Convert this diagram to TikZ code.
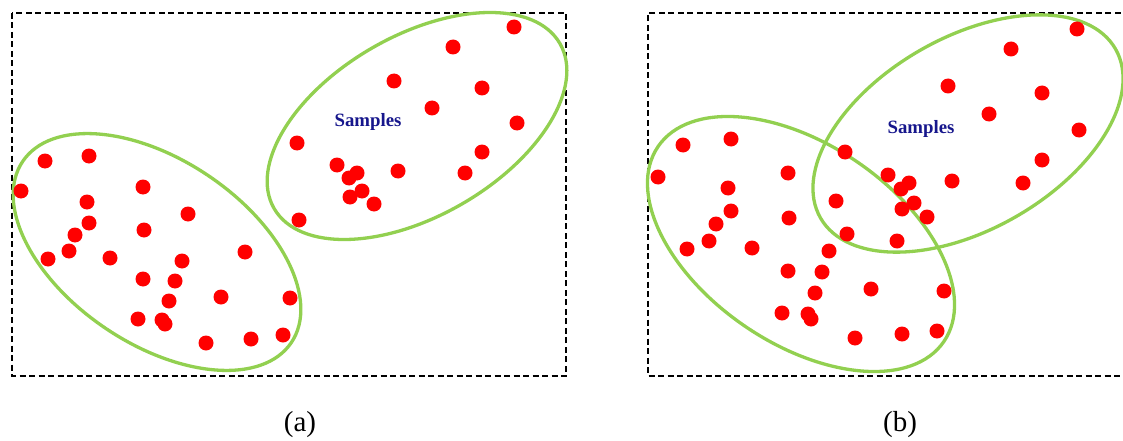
\documentclass[tikz,border=0pt]{standalone}
\usepackage{fontspec}
\setmainfont{Liberation Serif}
\definecolor{ellgreen}{RGB}{146,208,80}
\definecolor{dotred}{RGB}{255,0,0}
\definecolor{sampblue}{RGB}{22,22,140}
\tikzset{
  dot/.style={circle,fill=dotred,draw=none,inner sep=0pt,minimum size=15pt},
  cluster/.style={draw=ellgreen,line width=3.3pt},
  frame/.style={draw=black,line width=1.8pt,dash pattern=on 6pt off 3.5pt},
  samptext/.style={text=sampblue,font=\fontsize{18.8}{20}\selectfont\bfseries},
  caption/.style={font=\fontsize{29}{31}\selectfont}
}
\begin{document}
\begin{tikzpicture}[x=1pt,y=-1pt]
\useasboundingbox (0,0) rectangle (1123,441);
\clip (0,0) rectangle (1123,441);
% ---------- panel (a) ----------
\draw[frame] (12,13) rectangle (566,376);
\draw[cluster,rotate around={-34:(157,252)}] (157,252) ellipse [x radius=162pt,y radius=92pt];
\draw[cluster,rotate around={30:(417,126)}] (417,126) ellipse [x radius=165pt,y radius=90pt];
\foreach \x/\y [count=\i] in {45/161,89/156,21/191,143/187,87/202,188/214,89/223,75/235,144/230,69/251,48/259,110/258,245/252,182/261,143/279,175/281,221/297,290/298,169/301,138/319,162/320,165/324,206/343,251/339,283/335,
514/27,453/47,394/81,482/88,432/108,517/123,297/143,482/152,337/165,357/173,349/178,398/171,465/173,362/191,350/197,374/204,299/220}
  \node[dot] (pa\i) at (\x,\y) {};
\node[samptext] (sa) at (368,122) {Samples};
\node[caption] (capa) at (300,425) {(a)};
% ---------- panel (b) ----------
\draw[frame] (1130,13) -- (648,13) -- (648,376) -- (1130,376);
\draw[cluster,rotate around={-34.3:(801,244)}] (801,244) ellipse [x radius=173pt,y radius=99.5pt];
\draw[cluster,rotate around={29.8:(968,133.5)}] (968,133.5) ellipse [x radius=170pt,y radius=96pt];
\foreach \x/\y [count=\i] in {1077/29,1011/49,948/86,1042/93,989/114,1079/130,1042/160,1023/183,952/181,
845/152,888/175,909/183,901/189,914/203,902/209,927/217,836/201,847/234,897/241,829/251,
683/145,731/139,658/177,788/173,728/188,731/211,716/224,709/241,687/249,752/248,789/218,788/271,822/272,815/293,871/289,944/291,782/313,808/314,811/319,855/338,902/334,937/331}
  \node[dot] (pb\i) at (\x,\y) {};
\node[samptext] (sb) at (921,129) {Samples};
\node[caption] (capb) at (900,425) {(b)};
\end{tikzpicture}
\end{document}
